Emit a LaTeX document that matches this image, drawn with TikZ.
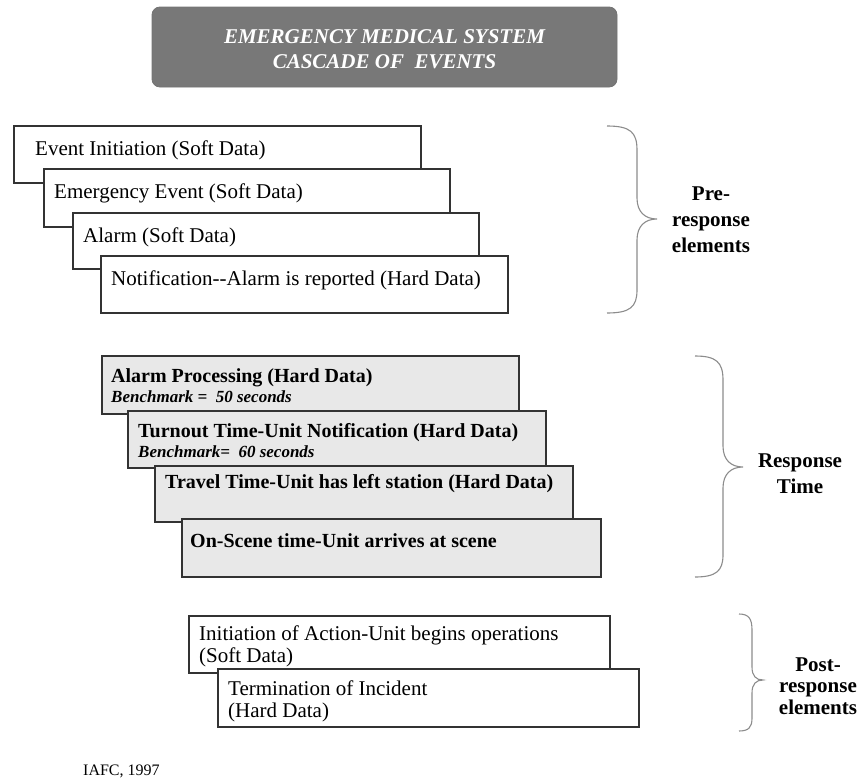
\documentclass[tikz,border=0pt]{standalone}
\usepackage{fontspec}
\setmainfont{Liberation Serif}
\tikzset{
  x=1pt, y=-1pt,
  titlebox/.style={draw=black!55, fill=black!53, rounded corners=8pt, line width=0.8pt},
  plainbox/.style={draw=black!80, fill=white, line width=1.4pt},
  greybox/.style={draw=black!80, fill=black!9, line width=1.4pt},
  txt/.style={anchor=base west, inner sep=0pt, font=\fontsize{21}{22}\selectfont},
  btxt/.style={anchor=base west, inner sep=0pt, font=\fontsize{20}{22}\selectfont\bfseries},
  bench/.style={anchor=base west, inner sep=0pt, font=\fontsize{17}{19}\selectfont\bfseries\itshape},
  brace/.style={draw=black!45, line width=1.1pt},
  side/.style={align=center, inner sep=0pt, font=\fontsize{21}{26}\selectfont\bfseries}
}
\begin{document}
\begin{tikzpicture}
\useasboundingbox (0,0) rectangle (862,779);

% heading
\draw[titlebox] (152,7) rectangle (617,87);
\node[anchor=base, inner sep=0pt, text=white, font=\fontsize{21}{22}\selectfont\bfseries\itshape] (t1) at (384.5,43) {EMERGENCY MEDICAL SYSTEM};
\node[anchor=base, inner sep=0pt, text=white, font=\fontsize{21}{22}\selectfont\bfseries\itshape] (t2) at (384.5,68) {CASCADE OF\ \ EVENTS};

% pre-response cascade
\draw[plainbox] (14,126) rectangle (421,183);
\node[txt] (p1) at (35,155) {Event Initiation (Soft Data)};
\draw[plainbox] (44,169) rectangle (450,227);
\node[txt] (p2) at (54,198) {Emergency Event (Soft Data)};
\draw[plainbox] (73,213) rectangle (479,269);
\node[txt] (p3) at (83,242) {Alarm (Soft Data)};
\draw[plainbox] (101,256) rectangle (508,313);
\node[txt] (p4) at (111,285) {Notification-{}-Alarm is reported (Hard Data)};

% response cascade
\draw[greybox] (102,356) rectangle (519,414);
\node[btxt] (r1) at (111,382) {Alarm Processing (Hard Data)};
\node[bench] (r1b) at (111,402) {Benchmark =\ \ 50 seconds};
\draw[greybox] (128,411) rectangle (546,468);
\node[btxt] (r2) at (138,437) {Turnout Time-Unit Notification (Hard Data)};
\node[bench] (r2b) at (138,457) {Benchmark=\ \ 60 seconds};
\draw[greybox] (155,466) rectangle (573,522);
\node[btxt] (r3) at (165,488) {Travel Time-Unit has left station (Hard Data)};
\draw[greybox] (182,519) rectangle (601,577);
\node[btxt] (r4) at (190,547) {On-Scene time-Unit arrives at scene};

% post-response cascade
\draw[plainbox] (189,616) rectangle (610,673);
\node[txt] (q1) at (199,640) {Initiation of Action-Unit begins operations};
\node[txt] (q1b) at (199,662) {(Soft Data)};
\draw[plainbox] (218,669) rectangle (639,727);
\node[txt] (q2) at (228,695) {Termination of Incident};
\node[txt] (q2b) at (228,717) {(Hard Data)};

% braces
\draw[brace] (607,126) .. controls (630,126) and (637,132) .. (637,150) -- (637,198)
  .. controls (637,212) and (645,219) .. (657,219)
  .. controls (645,219) and (637,226) .. (637,240) -- (637,290)
  .. controls (637,307) and (630,313) .. (607,313);
\draw[brace] (695,356) .. controls (716,356) and (723,362) .. (723,380) -- (723,446)
  .. controls (723,460) and (731,467) .. (743,467)
  .. controls (731,467) and (723,474) .. (723,488) -- (723,555)
  .. controls (723,571) and (716,577) .. (695,577);
\draw[brace] (739,614) .. controls (749,614) and (752,619) .. (752,630) -- (752,667)
  .. controls (752,676) and (756,680) .. (763,680)
  .. controls (756,680) and (752,684) .. (752,693) -- (752,718)
  .. controls (752,727) and (749,731) .. (739,731);

% side labels (base anchor sits on the last line)
\node[side, anchor=base] (s1) at (711,252) {Pre-\\response\\elements};
\node[side, anchor=base] (s2) at (800,493) {Response\\Time};
\node[side, anchor=base, font=\fontsize{21}{21.5}\selectfont\bfseries] (s3) at (818,714) {Post-\\response\\elements};

% source
\node[anchor=base west, inner sep=0pt, font=\fontsize{16}{18}\selectfont] (src) at (83,775) {IAFC, 1997};
\end{tikzpicture}
\end{document}
